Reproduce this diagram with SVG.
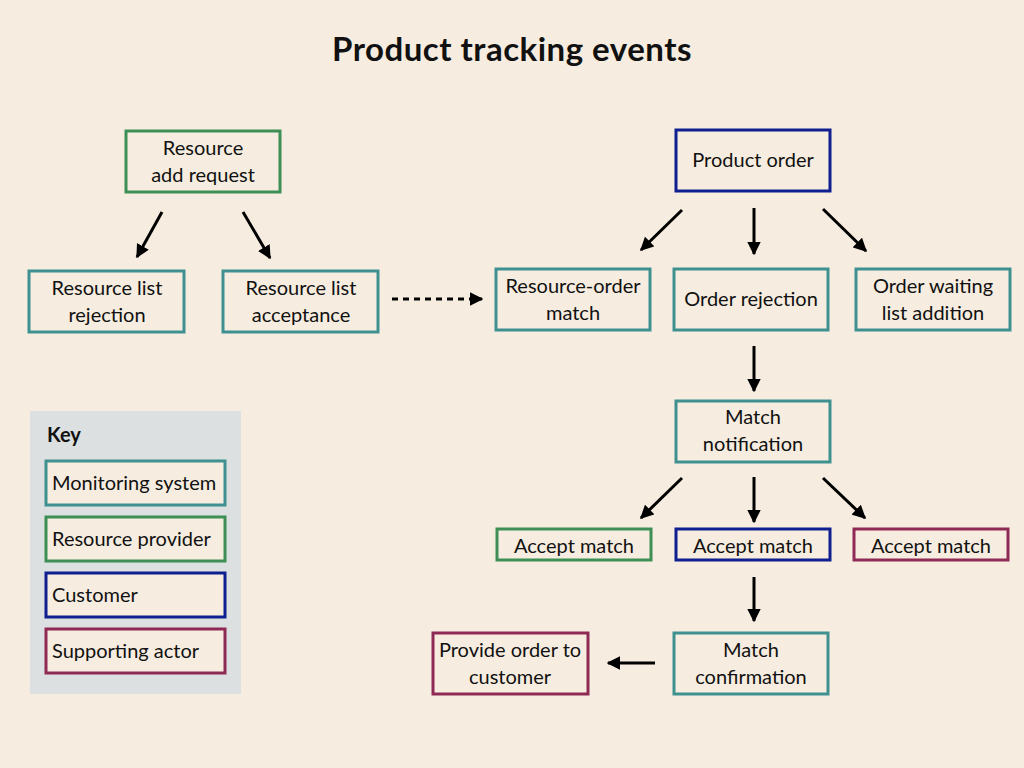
<svg xmlns="http://www.w3.org/2000/svg" width="1024" height="768" viewBox="0 0 1024 768">
<defs>
<marker id="ah" viewBox="0 0 10 10" refX="9" refY="5" markerWidth="4.5" markerHeight="4.5" orient="auto" markerUnits="strokeWidth">
<path d="M0,0 L10,5 L0,10 z" fill="#000"/>
</marker>
</defs>
<style>
text{font-family:Lato,"Noto Sans","Liberation Sans",sans-serif;font-size:20px;fill:#111;text-anchor:middle}
.title{font-size:33px;font-weight:bold;letter-spacing:0.5px}
.key{font-weight:bold;text-anchor:start}
.kt{text-anchor:start}
rect.n{fill:#f6ede0;stroke-width:3}
.t{stroke:#3f9090}
.g{stroke:#3d8f55}
.b{stroke:#0f1f8f}
.m{stroke:#8f2a55}
.c line{stroke:#000;stroke-width:3;marker-end:url(#ah)}
</style>
<rect width="1024" height="768" fill="#f6ede0"/>
<text class="title" x="512" y="61">Product tracking events</text>

<g id="key">
<rect x="30" y="411" width="211" height="283" fill="#dde0e0"/>
<text class="key" x="47" y="442">Key</text>
<rect class="n t" x="46" y="461" width="179" height="44"/>
<text class="kt" x="52" y="490">Monitoring system</text>
<rect class="n g" x="46" y="517" width="179" height="44"/>
<text class="kt" x="52" y="546">Resource provider</text>
<rect class="n b" x="46" y="573" width="179" height="44"/>
<text class="kt" x="52" y="602">Customer</text>
<rect class="n m" x="46" y="629" width="179" height="44"/>
<text class="kt" x="52" y="658">Supporting actor</text>
</g>

<g id="resource-add-request">
<rect class="n g" x="126" y="131" width="154" height="61"/>
<text x="203" y="155">Resource</text>
<text x="203" y="182">add request</text>
</g>
<g id="resource-list-rejection">
<rect class="n t" x="29" y="271" width="155" height="61"/>
<text x="107" y="295">Resource list</text>
<text x="107" y="322">rejection</text>
</g>
<g id="resource-list-acceptance">
<rect class="n t" x="223" y="271" width="155" height="61"/>
<text x="301" y="295">Resource list</text>
<text x="301" y="322">acceptance</text>
</g>
<g id="product-order">
<rect class="n b" x="676" y="130" width="154" height="61"/>
<text x="753" y="167">Product order</text>
</g>
<g id="resource-order-match">
<rect class="n t" x="496" y="269" width="154" height="61"/>
<text x="573" y="293">Resource-order</text>
<text x="573" y="320">match</text>
</g>
<g id="order-rejection">
<rect class="n t" x="674" y="269" width="154" height="61"/>
<text x="751" y="306">Order rejection</text>
</g>
<g id="order-waiting-list-addition">
<rect class="n t" x="856" y="269" width="154" height="61"/>
<text x="933" y="293">Order waiting</text>
<text x="933" y="320">list addition</text>
</g>
<g id="match-notification">
<rect class="n t" x="676" y="401" width="154" height="61"/>
<text x="753" y="424">Match</text>
<text x="753" y="451">notification</text>
</g>
<g id="accept-match-provider">
<rect class="n g" x="497" y="529" width="154" height="31"/>
<text x="574" y="553">Accept match</text>
</g>
<g id="accept-match-customer">
<rect class="n b" x="676" y="529" width="154" height="31"/>
<text x="753" y="553">Accept match</text>
</g>
<g id="accept-match-supporting">
<rect class="n m" x="854" y="529" width="154" height="31"/>
<text x="931" y="553">Accept match</text>
</g>
<g id="match-confirmation">
<rect class="n t" x="674" y="633" width="154" height="61"/>
<text x="751" y="657">Match</text>
<text x="751" y="684">confirmation</text>
</g>
<g id="provide-order-to-customer">
<rect class="n m" x="433" y="633" width="155" height="61"/>
<text x="510" y="657">Provide order to</text>
<text x="510" y="684">customer</text>
</g>

<g id="connectors" class="c">
<line x1="162" y1="212" x2="137" y2="257"/>
<line x1="243" y1="212" x2="270" y2="258"/>
<line x1="392" y1="299" x2="482" y2="299" stroke-dasharray="6,5"/>
<line x1="682" y1="210" x2="641" y2="250"/>
<line x1="754" y1="208" x2="754" y2="254"/>
<line x1="823" y1="209" x2="866" y2="251"/>
<line x1="754" y1="346" x2="754" y2="391"/>
<line x1="682" y1="478" x2="641" y2="518"/>
<line x1="754" y1="477" x2="754" y2="522"/>
<line x1="823" y1="478" x2="865" y2="518"/>
<line x1="754" y1="577" x2="754" y2="621"/>
<line x1="655" y1="663" x2="608" y2="663"/>
</g>
</svg>
